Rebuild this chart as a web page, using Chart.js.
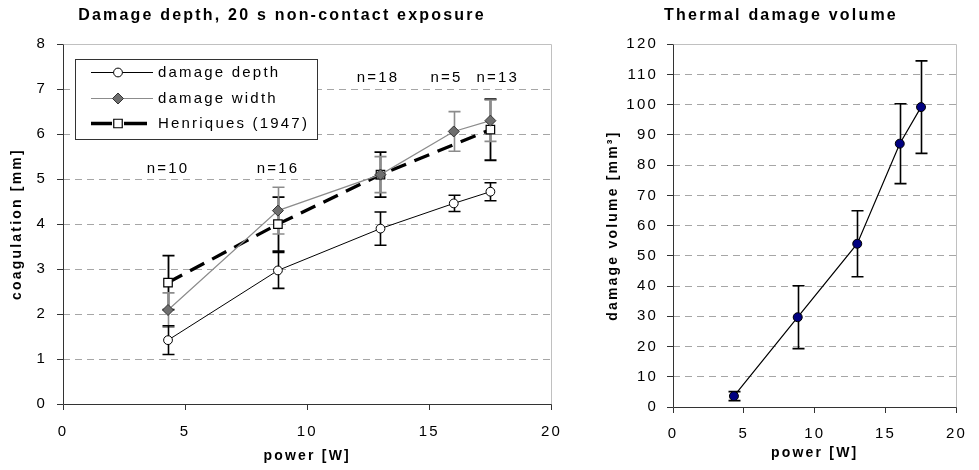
<!DOCTYPE html>
<html><head><meta charset="utf-8">
<script src="https://cdn.jsdelivr.net/npm/chart.js@4"></script>
<style>
html,body{margin:0;padding:0;background:#fff;overflow:hidden;width:979px;height:470px;}
#wrapL{position:absolute;left:-15px;top:0;width:590px;height:470px;}
#wrapR{position:absolute;left:587px;top:0;width:392px;height:470px;}
</style></head><body>
<div id="wrapL"><canvas id="cL"></canvas></div>
<div id="wrapR"><canvas id="cR"></canvas></div>
<script>
// ---- data ----
const power = [4.3, 8.8, 13.0, 16.0, 17.5];
const depth = [1.42, 2.97, 3.90, 4.46, 4.72];
const depthErr = [0.32, 0.40, 0.37, 0.18, 0.20];
const widthVals = [2.09, 4.30, 5.10, 6.06, 6.30];
const widthErr = [0.38, 0.52, 0.40, 0.44, 0.46];
const henPower = [4.3, 8.8, 13.0, 17.5];
const henriques = [2.70, 4.00, 5.10, 6.10];
const henErr = [0.60, 0.60, 0.50, 0.68];
const volume = [3.6, 29.7, 54.0, 87.1, 99.2];
const volumeErr = [1.5, 10.4, 10.9, 13.2, 15.3];
const nLabels = ['n=10', 'n=16', 'n=18', 'n=5', 'n=13'];
const nLabelX = [4.3, 8.8, 12.9, 15.7, 17.8];
const nLabelY = [5.22, 5.22, 7.25, 7.25, 7.25];
const xTicks = [0, 5, 10, 15, 20];

const FONT = '"Liberation Sans", Arial, sans-serif';
const SPACING = '2.2px';
Chart.defaults.font.family = FONT;
Chart.defaults.font.size = 15;
Chart.defaults.color = '#000';

const pts = (xs, ys) => xs.map((x, i) => ({x: x, y: ys[i]}));

const spacingPlugin = {
  id: 'spacing',
  beforeUpdate(c){ c.ctx.letterSpacing = SPACING; },
  beforeLayout(c){ c.ctx.letterSpacing = SPACING; },
  beforeDraw(c){ c.ctx.letterSpacing = SPACING; }
};

const framePlugin = {
  id: 'frame',
  beforeDatasetsDraw(c){
    const {ctx, chartArea: a} = c;
    ctx.save();
    ctx.setLineDash([]);
    ctx.lineWidth = 1;
    ctx.strokeStyle = '#c0c0c0';
    ctx.beginPath();
    ctx.moveTo(Math.round(a.left) + 0.5, Math.round(a.top) + 0.5);
    ctx.lineTo(Math.round(a.right) + 0.5, Math.round(a.top) + 0.5);
    ctx.lineTo(Math.round(a.right) + 0.5, Math.round(a.bottom) + 0.5);
    ctx.stroke();
    ctx.strokeStyle = '#333';
    ctx.beginPath();
    ctx.moveTo(Math.round(a.left) + 0.5, Math.round(a.top) + 0.5);
    ctx.lineTo(Math.round(a.left) + 0.5, Math.round(a.bottom) + 0.5);
    ctx.lineTo(Math.round(a.right) + 0.5, Math.round(a.bottom) + 0.5);
    ctx.stroke();
    ctx.restore();
  }
};

const errorPlugin = {
  id: 'errorBars',
  beforeDatasetsDraw(c, args, opts){
    const ctx = c.ctx, xs = c.scales.x, ys = c.scales.y;
    (opts.sets || []).forEach(s => {
      const ds = c.data.datasets[s.dataset];
      ctx.save();
      ctx.setLineDash([]);
      ctx.strokeStyle = s.color;
      ctx.lineWidth = s.width;
      ds.data.forEach((p, j) => {
        const e = s.errors[j];
        const x = Math.round(xs.getPixelForValue(p.x)) + 0.5;
        const y1 = ys.getPixelForValue(p.y - e), y2 = ys.getPixelForValue(p.y + e);
        const cap = s.cap;
        ctx.beginPath();
        ctx.moveTo(x, y1); ctx.lineTo(x, y2);
        ctx.moveTo(x - cap, y1); ctx.lineTo(x + cap, y1);
        ctx.moveTo(x - cap, y2); ctx.lineTo(x + cap, y2);
        ctx.stroke();
      });
      ctx.restore();
    });
  }
};

const nLabelPlugin = {
  id: 'nLabels',
  afterDatasetsDraw(c, args, opts){
    if (!opts.show) return;
    const ctx = c.ctx, xs = c.scales.x, ys = c.scales.y;
    ctx.save();
    ctx.font = '15px ' + FONT;
    ctx.fillStyle = '#000';
    ctx.textAlign = 'center';
    ctx.textBaseline = 'middle';
    nLabels.forEach((t, i) => {
      ctx.fillText(t, xs.getPixelForValue(nLabelX[i]), ys.getPixelForValue(nLabelY[i]));
    });
    ctx.restore();
  }
};

const boxLegendPlugin = {
  id: 'boxLegend',
  afterDatasetsDraw(c, args, opts){
    if (!opts.show) return;
    const ctx = c.ctx, a = c.chartArea;
    const bx = a.left + 12, by = a.top + 15, bw = 242, bh = 80;
    ctx.save();
    ctx.fillStyle = '#fff';
    ctx.fillRect(bx, by, bw, bh);
    ctx.strokeStyle = '#333';
    ctx.lineWidth = 1;
    ctx.setLineDash([]);
    ctx.strokeRect(Math.round(bx) + 0.5, Math.round(by) + 0.5, bw, bh);
    const rows = [by + 13, by + 39, by + 64];
    const sx0 = bx + 16, sx1 = bx + 78, mx = bx + 43, tx = bx + 83;
    c.data.datasets.forEach((ds, i) => {
      const y = Math.round(rows[i]) + 0.5;
      ctx.save();
      ctx.strokeStyle = ds.borderColor;
      ctx.lineWidth = ds.borderWidth;
      if (i === 2) {
        ctx.beginPath();
        ctx.moveTo(sx0, y); ctx.lineTo(mx - 6, y);
        ctx.moveTo(mx + 6, y); ctx.lineTo(sx1 - 6, y);
        ctx.stroke();
      } else {
        ctx.beginPath(); ctx.moveTo(sx0, y); ctx.lineTo(sx1, y); ctx.stroke();
      }
      ctx.fillStyle = ds.pointBackgroundColor;
      ctx.strokeStyle = ds.pointBorderColor;
      ctx.lineWidth = ds.pointBorderWidth;
      Chart.helpers.drawPoint(ctx, {pointStyle: ds.pointStyle, rotation: 0, radius: ds.pointRadius, borderWidth: ds.pointBorderWidth}, mx, y);
      ctx.restore();
      ctx.fillStyle = '#000';
      ctx.font = '15px ' + FONT;
      ctx.textAlign = 'left';
      ctx.textBaseline = 'middle';
      ctx.fillText(ds.label, tx, y);
    });
    ctx.restore();
  }
};

function scales(yMax, yStep, yTitle, yWidth, yPad, xHeight, xPad, xTitlePad, yTitlePad){
  return {
    x: {
      type: 'linear', min: 0, max: 20,
      afterBuildTicks: s => { s.ticks = xTicks.map(v => ({value: v})); },
      ticks: {padding: xPad, font: {size: 15}, color: '#000'},
      grid: {drawOnChartArea: false, drawTicks: true, tickLength: 6, color: '#333', tickColor: '#333', tickBorderDash: []},
      border: {display: false},
      title: {display: true, text: 'power [W]', font: {size: 14, weight: 'bold'}, color: '#000', padding: {top: 0, bottom: xTitlePad}},
      afterFit: s => { s.height = xHeight; }
    },
    y: {
      type: 'linear', min: 0, max: yMax,
      ticks: {stepSize: yStep, padding: yPad, font: {size: 15}, color: '#000'},
      grid: {drawTicks: true, tickLength: 6, color: '#a6a6a6', tickColor: '#333', tickBorderDash: [], lineWidth: 1},
      border: {display: false, dash: [7, 5]},
      title: {display: true, text: yTitle, font: {size: 14, weight: 'bold'}, color: '#000', padding: {top: yTitlePad, bottom: 0}},
      afterFit: s => { s.width = yWidth; }
    }
  };
}

function titleOpts(text){
  return {display: true, text: text, font: {size: 16, weight: 'bold'}, color: '#000', padding: {top: 6, bottom: 19}};
}

new Chart(document.getElementById('cL'), {
  type: 'scatter',
  data: {
    datasets: [
      {label: 'damage depth', data: pts(power, depth), showLine: true, borderColor: '#000', borderWidth: 1,
       pointStyle: 'circle', pointRadius: 4.4, pointBackgroundColor: '#fff', pointBorderColor: '#000', pointBorderWidth: 1},
      {label: 'damage width', data: pts(power, widthVals), showLine: true, borderColor: '#8c8c8c', borderWidth: 1.2,
       pointStyle: 'rectRot', pointRadius: 5.5, pointBackgroundColor: '#6e6e6e', pointBorderColor: '#333', pointBorderWidth: 1},
      {label: 'Henriques (1947)', data: pts(henPower, henriques), showLine: true, borderColor: '#000', borderWidth: 3.3, borderDash: [16, 9],
       pointStyle: 'rect', pointRadius: 6, pointBackgroundColor: '#fff', pointBorderColor: '#000', pointBorderWidth: 1.2}
    ]
  },
  options: {
    responsive: true, maintainAspectRatio: false, animation: false,
    layout: {padding: {left: 20, right: 16, top: 0, bottom: 0}},
    scales: scales(8, 1, 'coagulation [mm]', 58, 10, 66, 13, 5, 3.6),
    plugins: {
      legend: {display: false}, tooltip: {enabled: false},
      title: titleOpts('Damage depth, 20 s non-contact exposure'),
      errorBars: {sets: [
        {dataset: 2, errors: henErr, color: '#000', width: 1.8, cap: 6},
        {dataset: 1, errors: widthErr, color: '#8c8c8c', width: 1.6, cap: 6},
        {dataset: 0, errors: depthErr, color: '#000', width: 1.6, cap: 6}
      ]},
      nLabels: {show: true},
      boxLegend: {show: true}
    }
  },
  plugins: [spacingPlugin, framePlugin, errorPlugin, nLabelPlugin, boxLegendPlugin]
});

new Chart(document.getElementById('cR'), {
  type: 'scatter',
  data: {
    datasets: [
      {label: 'damage volume', data: pts(power, volume), showLine: true, borderColor: '#000', borderWidth: 1.2,
       pointStyle: 'circle', pointRadius: 4.5, pointBackgroundColor: '#000080', pointBorderColor: '#000', pointBorderWidth: 1}
    ]
  },
  options: {
    responsive: true, maintainAspectRatio: false, animation: false,
    layout: {padding: {left: 14, right: 18, top: 0, bottom: 0}},
    scales: scales(120, 10, 'damage volume [mm³]', 72, 9, 63, 12, 8, 3.6),
    plugins: {
      legend: {display: false}, tooltip: {enabled: false},
      title: titleOpts('Thermal damage volume'),
      errorBars: {sets: [
        {dataset: 0, errors: volumeErr, color: '#000', width: 1.6, cap: 6}
      ]},
      nLabels: {show: false},
      boxLegend: {show: false}
    }
  },
  plugins: [spacingPlugin, framePlugin, errorPlugin, nLabelPlugin, boxLegendPlugin]
});
</script>
</body></html>
